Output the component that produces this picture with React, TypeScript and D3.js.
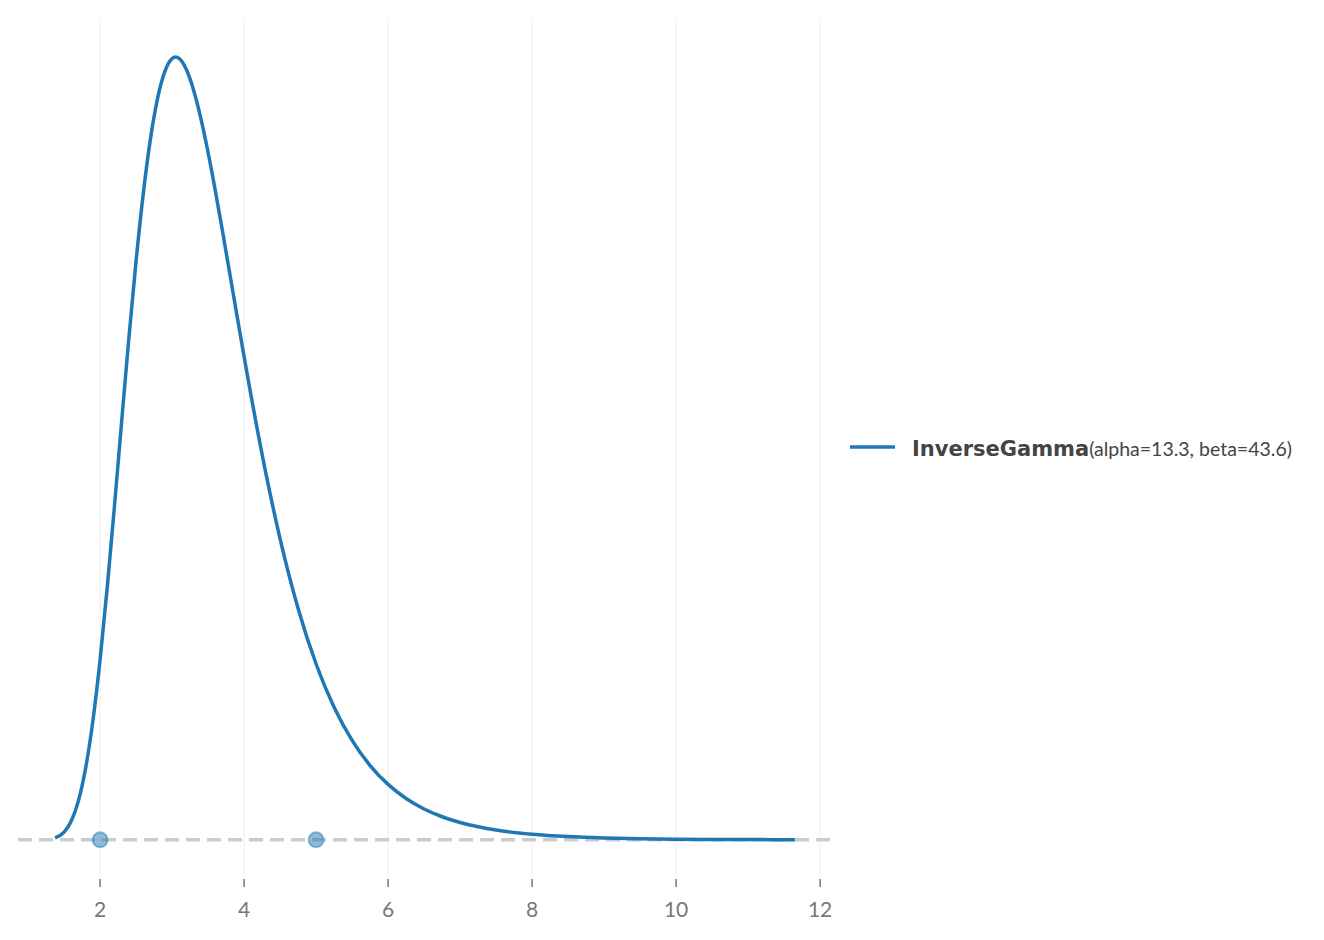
import React from 'react';
import * as d3 from 'd3';

// density curve
const xs = [1.375, 1.5, 1.6, 1.7, 1.8, 1.9, 2.0, 2.1, 2.2, 2.3, 2.4, 2.5, 2.6, 2.7, 2.8, 2.9, 3.0, 3.05, 3.1, 3.2, 3.3, 3.4, 3.5, 3.6, 3.7, 3.8, 3.9, 4.0, 4.25, 4.5, 4.75, 5.0, 5.25, 5.5, 5.75, 6.0, 6.25, 6.5, 6.75, 7.0, 7.5, 8.0, 8.5, 9.0, 9.5, 10.0, 10.5, 11.0, 11.65];
const density = [0.00111, 0.0045, 0.01099, 0.02293, 0.04211, 0.06953, 0.10517, 0.1478, 0.19524, 0.24477, 0.29341, 0.33848, 0.37783, 0.40989, 0.43376, 0.44923, 0.45672, 0.45754, 0.45666, 0.4501, 0.43802, 0.42156, 0.40177, 0.37956, 0.3558, 0.33137, 0.30673, 0.28244, 0.22534, 0.17595, 0.13526, 0.10277, 0.07748, 0.0581, 0.04343, 0.03241, 0.02418, 0.01805, 0.01349, 0.0101, 0.0057, 0.00326, 0.00189, 0.00111, 0.00066, 0.0004, 0.00024, 0.00015, 0.00008];
const markerXs = [2, 5];
const xTicks = [2, 4, 6, 8, 10, 12];
const distName = 'InverseGamma';
const distParams = '(alpha=13.3, beta=43.6)';

const W = 1324;
const H = 940;
const blue = '#1f77b4';

export default function App() {
  const x = d3.scaleLinear().domain([0.86, 12.165]).range([18, 832]);
  const y = d3.scaleLinear().domain([-0.0229, 0.4804]).range([879, 18]);

  const pts: [number, number][] = xs.map((v, i) => [v, density[i]]);
  const line = d3
    .line<[number, number]>()
    .x((d) => x(d[0]))
    .y((d) => y(d[1]))
    .curve(d3.curveMonotoneX);

  const [x0, x1] = x.range();
  const [yb, yt] = y.range();

  return (
    <svg width={W} height={H} style={{ position: 'absolute', left: 0, top: 0, background: '#fff' }}>
      {/* grid */}
      {xTicks.map((t) => (
        <line key={'g' + t} x1={x(t)} x2={x(t)} y1={yt} y2={yb} stroke="#f4f4f4" strokeWidth={1.5} />
      ))}
      {/* baseline */}
      <line x1={x0} x2={x1} y1={y(0)} y2={y(0)} stroke="#cccccc" strokeWidth={3.5} strokeDasharray="14 7" />
      <path d={line(pts) || ''} fill="none" stroke={blue} strokeWidth={3.5} strokeLinejoin="round" />
      {markerXs.map((m) => (
        <circle key={'m' + m} cx={x(m)} cy={y(0)} r={7.5} fill={blue} fillOpacity={0.5} stroke={blue} strokeOpacity={0.45} strokeWidth={2} />
      ))}
      {/* x axis */}
      {xTicks.map((t) => (
        <g key={'t' + t} transform={`translate(${x(t)},0)`}>
          <line y1={879} y2={887} stroke="#777" strokeWidth={1.5} />
          <text y={917} textAnchor="middle" fill="#777" fontFamily="Lato, 'Open Sans', sans-serif" fontSize={21}>
            {t}
          </text>
        </g>
      ))}
      {/* legend */}
      <line x1={850} x2={895} y1={447} y2={447} stroke={blue} strokeWidth={3.5} />
      <text x={912} y={456} fill="#444" fontSize={21}>
        <tspan fontFamily="'DejaVu Sans', sans-serif" fontWeight="bold">{distName}</tspan>
        <tspan fontFamily="Lato, sans-serif" fontSize={19.5}>{distParams}</tspan>
      </text>
    </svg>
  );
}
